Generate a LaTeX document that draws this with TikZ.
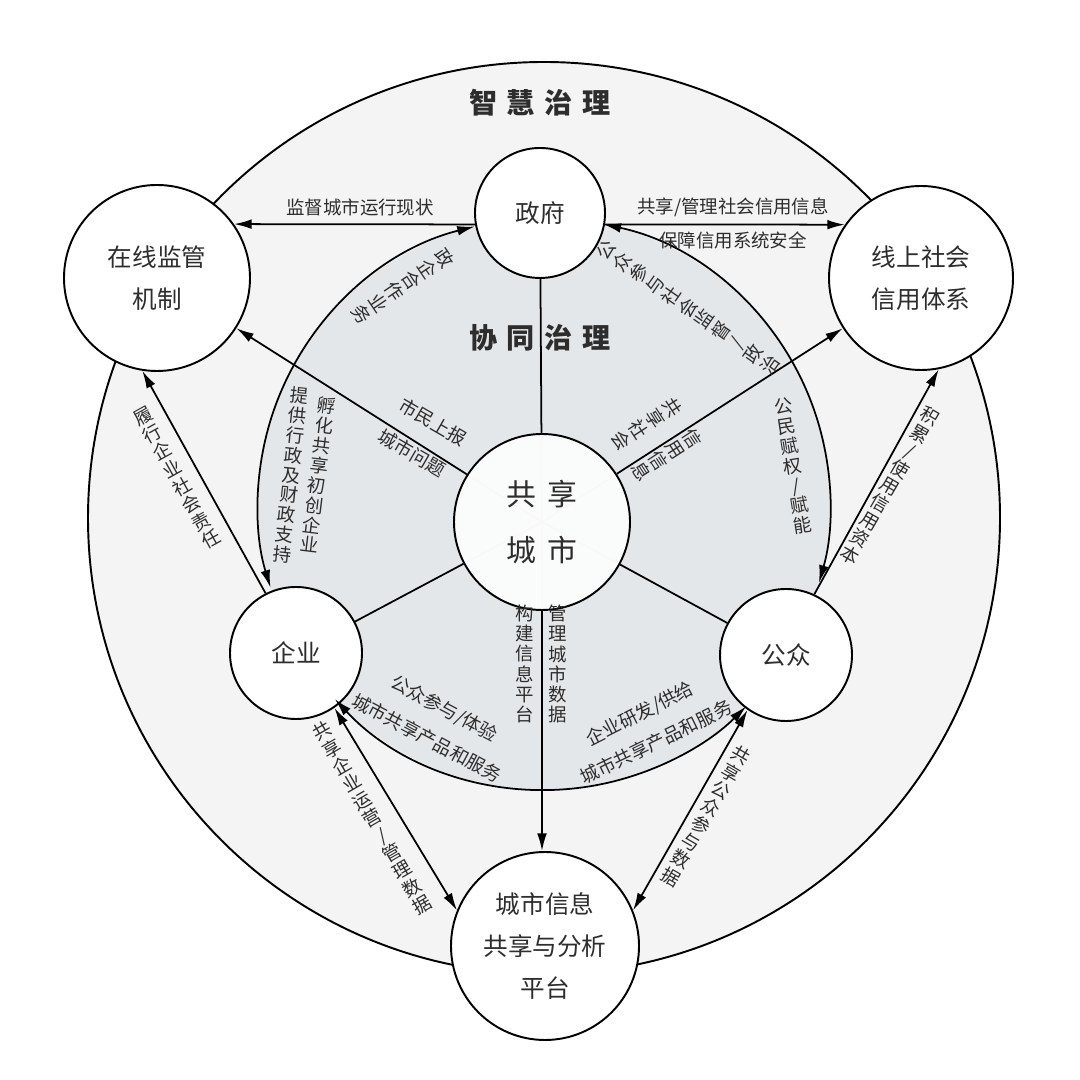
\documentclass[tikz,border=0pt]{standalone}
\usepackage{fontspec}
\setmainfont{Noto Sans CJK SC}
\usetikzlibrary{arrows.meta,calc}

\definecolor{ringgray}{RGB}{228,231,234}
\definecolor{outgray}{RGB}{244,244,244}
\definecolor{ink}{RGB}{45,45,45}
\tikzset{
  arr/.style={line width=1pt,-{Latex[length=10pt,width=5.5pt]}},
  darr/.style={line width=1pt,{Latex[length=10pt,width=5.5pt]}-{Latex[length=10pt,width=5.5pt]}},
  link/.style={line width=1pt},
  faint/.style={line width=0.8pt,black!18},
  actor/.style={circle,draw,line width=1.1pt,fill=white,align=center,text=ink,
    font=\fontsize{14}{24}\selectfont},
  lab/.style={font=\fontsize{10.5}{12}\selectfont,inner sep=0.5pt,text=ink},
  vlab/.style={align=center,font=\fontsize{10.5}{11.4}\selectfont,inner sep=1pt,text=ink},
  head/.style={font=\fontsize{16}{18}\selectfont\bfseries,text=ink}
}
\newcommand{\gap}{\hspace{0.35em}}

\begin{document}
\begin{tikzpicture}
\useasboundingbox[fill=white] (0,0) rectangle (21.6,21.6);

% rings
\draw[line width=1.1pt,fill=outgray] (10.88,11.24) circle (9.12);
\coordinate (ring) at (10.88,11.52);
\fill[ringgray] (ring) circle (5.72);

% actors
\node[actor,minimum size=2.6cm] (gov) at (10.8,17.34) {政府};
\node[actor,minimum size=3.72cm] (mon) at (3.14,16.04) {在线监管\\机制};
\node[actor,minimum size=3.68cm] (cred) at (18.42,16.04) {线上社会\\信用体系};
\node[actor,minimum size=2.64cm] (ent) at (5.92,8.54) {企业};
\node[actor,minimum size=2.64cm] (pub) at (15.72,8.5) {公众};
\node[actor,minimum size=3.76cm] (plat) at (10.9,2.68) {城市信息\\共享与分析\\平台};

% ring arcs
\draw[darr] ([shift={(104:5.72)}]ring) arc[start angle=104,end angle=197,radius=5.72];
\draw[darr] ([shift={(78:5.72)}]ring) arc[start angle=78,end angle=-16,radius=5.72];
\draw[darr] ([shift={(223:5.72)}]ring) arc[start angle=223,end angle=315,radius=5.72];

% spokes
\coordinate (c) at (10.84,11.16);
\foreach \t in {gov,mon,cred,ent,pub,plat}
  \draw[faint] (c) -- ($(c)!1.76cm!(\t)$);
\node[circle,draw,line width=1.1pt,fill=white,fill opacity=0.85,text opacity=1,text=ink,
  minimum size=3.52cm,align=center,font=\fontsize{17}{32}\selectfont] (city) at (c) {共\gap 享\\城\gap 市};

\draw[link] (city) -- (gov);
\draw[link] (city) -- (ent);
\draw[link] (city) -- (pub);
\draw[arr] (city) -- (mon);
\draw[arr] (city) -- (cred);
\draw[arr] (city.south) -- (city.south |- plat.north);
\draw[arr] (gov.190) -- (mon.35);
\draw[arr] (gov.350) -- (cred.145);
\draw[arr] (ent.117) -- (mon.261);
\draw[arr] (pub.65) -- (cred.281);
\draw[darr] (ent.-55) -- (plat.158);
\draw[darr] (pub.235) -- (plat.22);

% titles
\node[head] (t1) at (10.8,19.54) {智\gap 慧\gap 治\gap 理};
\node[head] (t2) at (10.8,14.84) {协\gap 同\gap 治\gap 理};

% labels
\node[lab] (l1) at (7.2,17.46) {监督城市运行现状};
\node[lab] (l2) at (14.66,17.46) {共享/管理社会信用信息};
\node[lab] (l3) at (14.66,16.8) {保障信用系统安全};
\node[vlab,rotate=-56] (l4) at (8.06,15.88) {政\\企\\合\\作\\业\\务};
\node[vlab,rotate=-7] (l5) at (6.36,12.1) {孵\\化\\共\\享\\初\\创\\企\\业};
\node[vlab,rotate=-6] (l6) at (5.82,12.1) {提\\供\\行\\政\\及\\财\\政\\支\\持};
\node[lab,rotate=-30] (l7) at (8.66,13.16) {市民上报};
\node[lab,rotate=-30] (l8) at (8.24,12.54) {城市问题};
\node[vlab,rotate=55] (l9) at (13.76,15.44) {公\\众\\参\\与\\社\\会\\监\\督\\/\\政\\治};
\node[vlab,rotate=9] (l10) at (15.86,12.28) {公\\民\\赋\\权\\/\\赋\\能};
\node[vlab,rotate=-57] (l11) at (12.94,13.12) {共\\享\\社\\会};
\node[vlab,rotate=-57] (l12) at (13.34,12.5) {信\\用\\信\\息};
\node[vlab,rotate=29] (l13) at (3.54,12.04) {履\\行\\企\\业\\社\\会\\责\\任};
\node[vlab,rotate=-30] (l14) at (17.8,11.88) {积\\累\\/\\使\\用\\信\\用\\资\\本};
\node[vlab] (l15) at (10.5,8.32) {构\\建\\信\\息\\平\\台};
\node[vlab] (l16) at (11.16,8.32) {管\\理\\城\\市\\数\\据};
\node[lab,rotate=-28] (l17) at (8.88,7.42) {公众参与/体验};
\node[lab,rotate=-28] (l18) at (8.54,6.84) {城市共享产品和服务};
\node[lab,rotate=27] (l19) at (12.8,7.32) {企业研发/供给};
\node[lab,rotate=26] (l20) at (13.12,6.76) {城市共享产品和服务};
\node[vlab,rotate=30] (l21) at (7.44,5.24) {共\\享\\企\\业\\运\\营\\/\\管\\理\\数\\据};
\node[vlab,rotate=-30] (l22) at (14.12,5.28) {共\\享\\公\\众\\参\\与\\数\\据};
\end{tikzpicture}
\end{document}
